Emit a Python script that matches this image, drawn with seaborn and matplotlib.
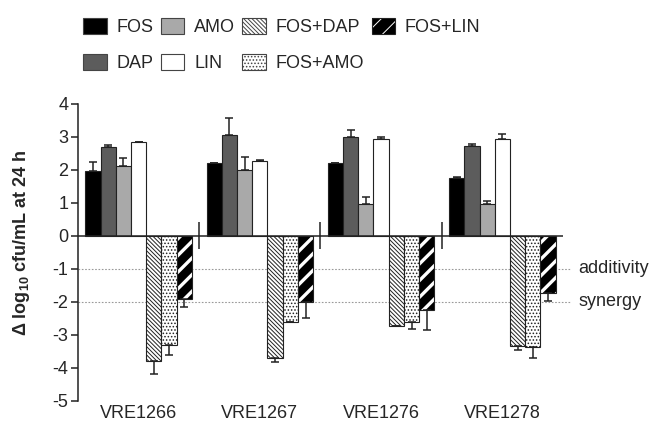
import matplotlib
matplotlib.use("Agg")
import matplotlib.pyplot as plt
from matplotlib.patches import Patch
import pandas as pd
import seaborn as sns

strains = ["VRE1266", "VRE1267", "VRE1276", "VRE1278"]
series = ["FOS", "DAP", "AMO", "LIN", "FOS+DAP", "FOS+AMO", "FOS+LIN"]

fos = [1.95, 2.20, 2.20, 1.73]
dap = [2.67, 3.05, 3.00, 2.70]
amo = [2.12, 1.98, 0.94, 0.95]
lin = [2.84, 2.25, 2.92, 2.92]
fos_dap = [-3.79, -3.72, -2.75, -3.34]
fos_amo = [-3.32, -2.63, -2.62, -3.37]
fos_lin = [-1.93, -2.00, -2.26, -1.73]

fos_err = [0.27, 0.00, 0.00, 0.04]
dap_err = [0.07, 0.50, 0.19, 0.07]
amo_err = [0.24, 0.39, 0.23, 0.09]
lin_err = [0.00, 0.03, 0.06, 0.16]
fos_dap_err = [0.41, 0.10, 0.00, 0.13]
fos_amo_err = [0.30, 0.00, 0.20, 0.35]
fos_lin_err = [0.25, 0.51, 0.60, 0.25]

ref_levels = [-1, -2]
ref_labels = ["additivity", "synergy"]

values = [fos, dap, amo, lin, fos_dap, fos_amo, fos_lin]
errors = [fos_err, dap_err, amo_err, lin_err, fos_dap_err, fos_amo_err, fos_lin_err]

rows = []
for name, vals in zip(series, values):
    for strain, v in zip(strains, vals):
        rows.append({"strain": strain, "treatment": name, "value": v})
df = pd.DataFrame(rows)

sns.set_style("ticks")
plt.rcParams["font.family"] = ["Liberation Sans", "DejaVu Sans"]
plt.rcParams["axes.unicode_minus"] = False
plt.rcParams["mathtext.fontset"] = "custom"
plt.rcParams["mathtext.rm"] = "Liberation Sans"
plt.rcParams["mathtext.bf"] = "Liberation Sans:bold"
plt.rcParams["hatch.linewidth"] = 0.7

edge = "#222222"
styles = {
    "FOS": dict(facecolor="black", hatch=None),
    "DAP": dict(facecolor="#5c5c5c", hatch=None),
    "AMO": dict(facecolor="#a9a9a9", hatch=None),
    "LIN": dict(facecolor="white", hatch=None),
    "FOS+DAP": dict(facecolor="white", hatch="\\\\\\\\\\\\\\\\"),
    "FOS+AMO": dict(facecolor="white", hatch="....."),
    "FOS+LIN": dict(facecolor="black", hatch="//"),
}

fig = plt.figure(figsize=(6.65, 4.29), dpi=100)
ax = fig.add_axes([0.1173, 0.0664, 0.7293, 0.6923])

sns.barplot(data=df, x="strain", y="value", hue="treatment", order=strains,
            hue_order=series, width=0.88, errorbar=None, legend=False,
            edgecolor=edge, linewidth=0.8, ax=ax)

for cont, name, vals, errs in zip(ax.containers, series, values, errors):
    st = styles[name]
    xs = [p.get_x() + p.get_width() / 2 for p in cont.patches]
    w = cont.patches[0].get_width()
    for p in cont.patches:
        p.set_facecolor(st["facecolor"])
        if st["hatch"]:
            p.set_hatch(st["hatch"])
    if name == "FOS+LIN":
        for p in cont.patches:
            p.set_edgecolor("white")
            p.set_linewidth(0)
            if hasattr(p, "set_hatch_linewidth"):
                p.set_hatch_linewidth(2.4)
        ax.bar(xs, vals, width=w, fill=False, edgecolor=edge, linewidth=0.8, zorder=3)
    lower = [e if v < 0 else 0 for v, e in zip(vals, errs)]
    upper = [e if v >= 0 else 0 for v, e in zip(vals, errs)]
    ax.errorbar(xs, vals, yerr=[lower, upper], fmt="none", ecolor=edge,
                elinewidth=1.1, capsize=3.2, capthick=1.1, zorder=4)

ax.set_xlim(-0.5, 3.5)
ax.set_ylim(-5, 4)
ax.set_yticks(range(-5, 5))
ax.axhline(0, color=edge, linewidth=1.1, zorder=5)
ax.vlines([i + 0.5 for i in range(len(strains) - 1)], -0.4, 0.4, color=edge, linewidth=1.1)

for lvl, lab in zip(ref_levels, ref_labels):
    ax.axhline(lvl, xmin=0, xmax=1.016, color="#999999", linestyle=(0, (1.5, 1.5)),
               linewidth=0.8, zorder=0, clip_on=False)
    ax.text(1.031, lvl, lab, transform=ax.get_yaxis_transform(), va="center",
            ha="left", fontsize=13)

sns.despine(ax=ax, bottom=True)
ax.spines["left"].set_linewidth(1.1)
ax.spines["left"].set_color(edge)
ax.tick_params(axis="y", length=5, width=1.1, color=edge, labelsize=13, pad=2)
ax.tick_params(axis="x", length=0, labelsize=13, pad=3)
ax.set_xlabel("")
ax.set_ylabel("Δ log$_{\\mathbf{10}}$ cfu/mL at 24 h", fontsize=13,
              fontweight="bold", labelpad=6)
ax.yaxis.set_label_coords(-0.095, 0.53)

handles = []
for name in series:
    st = styles[name]
    if name == "FOS+LIN":
        h1 = Patch(facecolor="black", edgecolor="white", hatch="//", linewidth=0)
        if hasattr(h1, "set_hatch_linewidth"):
            h1.set_hatch_linewidth(2.4)
        h2 = Patch(fill=False, edgecolor=edge, linewidth=0.8)
        handles.append((h1, h2))
    else:
        handles.append(Patch(facecolor=st["facecolor"], edgecolor="#444444",
                             hatch=st["hatch"], linewidth=0.8))

fig.legend(handles, series, loc="upper left", bbox_to_anchor=(0.125, 0.958),
           ncol=4, frameon=False, fontsize=13, handlelength=1.3,
           handleheight=0.95, handletextpad=0.55, columnspacing=0.4,
           labelspacing=1.0, borderpad=0, borderaxespad=0)

fig.savefig("out.png", dpi=100)
